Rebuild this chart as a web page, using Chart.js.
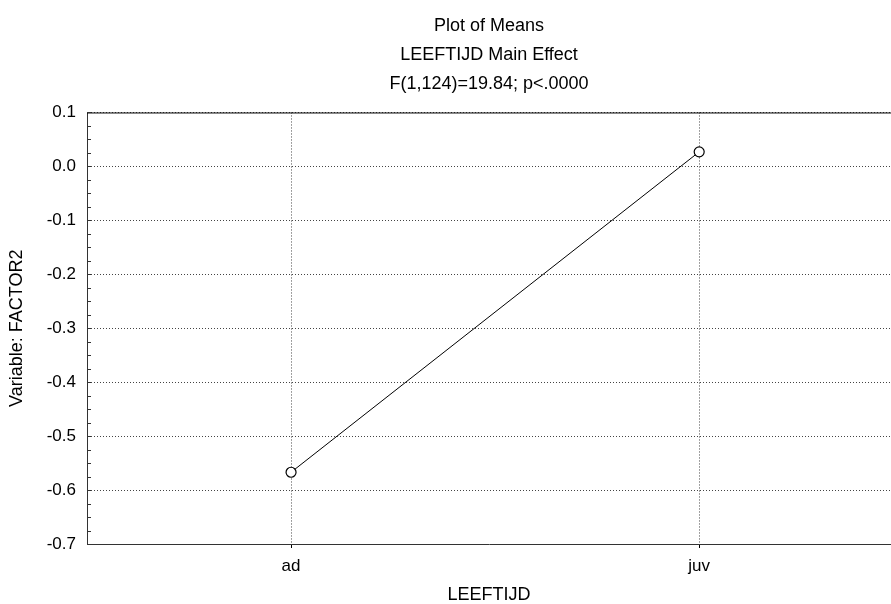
<!DOCTYPE html>
<html>
<head>
<meta charset="utf-8">
<script src="https://cdn.jsdelivr.net/npm/chart.js@4/dist/chart.umd.min.js"></script>
<style>
  html, body { margin: 0; padding: 0; background: #fff; }
  #wrap { width: 891px; height: 604px; }
</style>
</head>
<body>
<div id="wrap"><canvas id="meansChart"></canvas></div>
<script>
// Data
const categories = ["ad", "juv"];
const means = [-0.567, 0.027];
const yTicks = [0.1, 0.0, -0.1, -0.2, -0.3, -0.4, -0.5, -0.6, -0.7];
const titleLines = ["Plot of Means", "LEEFTIJD Main Effect", "F(1,124)=19.84; p<.0000"];

const FONT = "'Liberation Sans', Arial, sans-serif";

// top frame line + small inward ticks on the y axis
const framePlugin = {
  id: "frame",
  afterDraw(chart) {
    const { ctx, chartArea } = chart;
    const y = chart.scales.y;
    ctx.save();
    ctx.strokeStyle = "#000";
    ctx.lineWidth = 1;
    ctx.beginPath();
    ctx.moveTo(chartArea.left, chartArea.top + 0.5);
    ctx.lineTo(chartArea.right, chartArea.top + 0.5);
    ctx.stroke();
    ctx.strokeStyle = "#333";
    ctx.beginPath();
    for (let v = y.min; v <= y.max + 1e-9; v += 0.025) {
      const py = Math.round(y.getPixelForValue(v)) + 0.5;
      ctx.moveTo(chartArea.left, py);
      ctx.lineTo(chartArea.left + 4, py);
    }
    ctx.stroke();
    ctx.restore();
  }
};

new Chart(document.getElementById("meansChart"), {
  type: "line",
  data: {
    datasets: [{
      data: means.map((v, i) => ({ x: i, y: v })),
      borderColor: "#000",
      borderWidth: 1,
      pointRadius: 5,
      pointBackgroundColor: "#fff",
      pointBorderColor: "#000",
      pointBorderWidth: 1.2,
      fill: false,
      tension: 0
    }]
  },
  options: {
    responsive: true,
    maintainAspectRatio: false,
    animation: false,
    layout: { autoPadding: false, padding: 0 },
    plugins: {
      legend: { display: false },
      tooltip: { enabled: false },
      title: {
        display: true,
        text: titleLines,
        color: "#000",
        fullSize: false,
        font: { family: FONT, size: 18, weight: "normal", lineHeight: 1.62 },
        padding: { top: 11, bottom: 14 }
      }
    },
    scales: {
      x: {
        type: "linear",
        min: -0.5,
        max: 1.47,
        afterBuildTicks: (axis) => { axis.ticks = categories.map((c, i) => ({ value: i })); },
        afterFit: (axis) => { axis.height = 60; },
        ticks: {
          color: "#000",
          font: { family: FONT, size: 17 },
          padding: 8,
          callback: (v) => categories[v]
        },
        grid: { color: "#444", lineWidth: 1, tickLength: 4, tickColor: "#000" },
        border: { display: true, color: "#333", width: 1, dash: [1, 2] },
        title: {
          display: true,
          text: "LEEFTIJD",
          color: "#000",
          font: { family: FONT, size: 18, lineHeight: 1.0 },
          padding: { top: 0, bottom: 0 }
        }
      },
      y: {
        min: -0.7,
        max: 0.1,
        afterBuildTicks: (axis) => { axis.ticks = yTicks.map(v => ({ value: v })); },
        afterFit: (axis) => { axis.width = 87; },
        ticks: {
          color: "#000",
          font: { family: FONT, size: 17 },
          padding: 11,
          callback: (v) => (Math.abs(v) < 1e-9 ? 0 : v).toFixed(1)
        },
        grid: { color: "#444", lineWidth: 1, tickLength: 0 },
        border: { display: true, color: "#333", width: 1, dash: [1, 2] },
        title: {
          display: true,
          text: "Variable: FACTOR2",
          color: "#000",
          font: { family: FONT, size: 18, lineHeight: 1.0 },
          padding: { top: 8, bottom: 0 }
        }
      }
    }
  },
  plugins: [framePlugin]
});
</script>
</body>
</html>
